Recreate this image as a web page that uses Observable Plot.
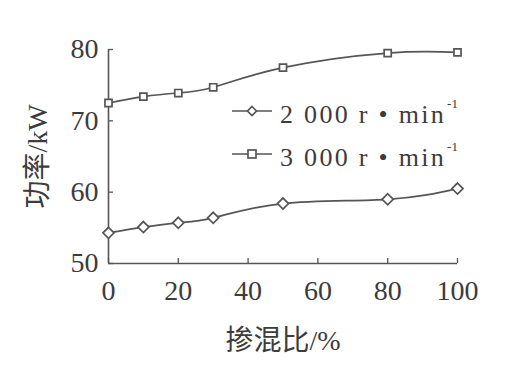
<!DOCTYPE html>
<html>
<head>
<meta charset="utf-8">
<script src="https://cdn.jsdelivr.net/npm/d3@7"></script>
<script src="https://cdn.jsdelivr.net/npm/@observablehq/plot@0.6"></script>
<style>
  html, body { margin: 0; padding: 0; background: #fff; }
  #wrap { position: relative; width: 510px; height: 375px; }
  #legend { position: absolute; left: 232px; top: 90px; font-family: "Liberation Serif", "Times New Roman", serif; font-size: 26px; color: #3c3c3c; line-height: 37px; }
  #legend .row { display: flex; align-items: center; white-space: nowrap; letter-spacing: 2.3px; }
  #legend svg { margin-right: 8px; }
  #legend sup { font-size: 13px; position: relative; top: -5px; margin-left: 1px; letter-spacing: 0; }
</style>
</head>
<body>
<div id="wrap"></div>
<script>
const ratio = [0, 10, 20, 30, 50, 80, 100];
const p2000 = [54.3, 55.1, 55.7, 56.4, 58.4, 59.0, 60.5];
const p3000 = [72.5, 73.4, 73.9, 74.7, 77.45, 79.5, 79.6];
const seriesNames = ["2 000 r • min", "3 000 r • min"];
const xTicks = [0, 20, 40, 60, 80, 100];
const yTicks = [50, 60, 70, 80];

const data = [
  ...ratio.map((r, i) => ({x: r, y: p2000[i], s: seriesNames[0]})),
  ...ratio.map((r, i) => ({x: r, y: p3000[i], s: seriesNames[1]}))
];
const ink = "#3c3c3c";
const lineInk = "#555";
const serif = "Liberation Serif, Times New Roman, serif";
const mixed = "Liberation Serif, Noto Sans CJK SC, serif";

const chart = Plot.plot({
  width: 510,
  height: 375,
  marginLeft: 108,
  marginRight: 53,
  marginTop: 49,
  marginBottom: 112,
  style: {background: "#fff", color: ink},
  x: {domain: [0, 100]},
  y: {domain: [50, 80]},
  marks: [
    Plot.axisX({ticks: xTicks, tickSize: -5, tickFormat: () => "", stroke: lineInk, strokeWidth: 1.3, label: null}),
    Plot.axisX({ticks: xTicks, tickSize: 0, tickPadding: 17, fontSize: 28, fontFamily: serif, fill: ink, label: null}),
    Plot.axisY({ticks: yTicks, tickSize: -5, tickFormat: () => "", stroke: lineInk, strokeWidth: 1.3, label: null}),
    Plot.axisY({ticks: yTicks, tickSize: 0, tickPadding: 10, fontSize: 28, fontFamily: serif, fill: ink, label: null}),
    Plot.ruleX([0], {stroke: lineInk, strokeWidth: 1.6}),
    Plot.ruleY([50], {stroke: lineInk, strokeWidth: 1.6}),
    Plot.line(data, {x: "x", y: "y", z: "s", curve: "natural", stroke: lineInk, strokeWidth: 1.7}),
    Plot.dot(data.filter(d => d.s === seriesNames[0]), {x: "x", y: "y", symbol: "diamond2", r: 5, stroke: lineInk, fill: "#fff", strokeWidth: 1.7}),
    Plot.dot(data.filter(d => d.s === seriesNames[1]), {x: "x", y: "y", symbol: "square2", r: 4.5, stroke: lineInk, fill: "#fff", strokeWidth: 1.7}),
    Plot.text(["掺混比/%"], {frameAnchor: "bottom", dy: 86, fontSize: 28, fontFamily: mixed, fill: ink}),
    Plot.text(["功率/kW"], {frameAnchor: "left", textAnchor: "middle", dx: -70, rotate: -90, fontSize: 28, fontFamily: mixed, fill: ink})
  ]
});

const wrap = document.getElementById("wrap");
wrap.appendChild(chart);

const legend = document.createElement("div");
legend.id = "legend";
const glyphs = [
  '<path d="M0,9H40" stroke="' + lineInk + '" stroke-width="1.7"/><path d="M20,4.5L24.5,9L20,13.5L15.5,9Z" stroke="' + lineInk + '" fill="#fff" stroke-width="1.7"/>',
  '<path d="M0,9H40" stroke="' + lineInk + '" stroke-width="1.7"/><rect x="16" y="5" width="8" height="8" stroke="' + lineInk + '" fill="#fff" stroke-width="1.7"/>'
];
seriesNames.forEach((name, i) => {
  const row = document.createElement("div");
  row.className = "row";
  row.innerHTML = '<svg width="40" height="18">' + glyphs[i] + '</svg><span>' + name + '<sup>-1</sup></span>';
  legend.appendChild(row);
});
wrap.appendChild(legend);
</script>
</body>
</html>
